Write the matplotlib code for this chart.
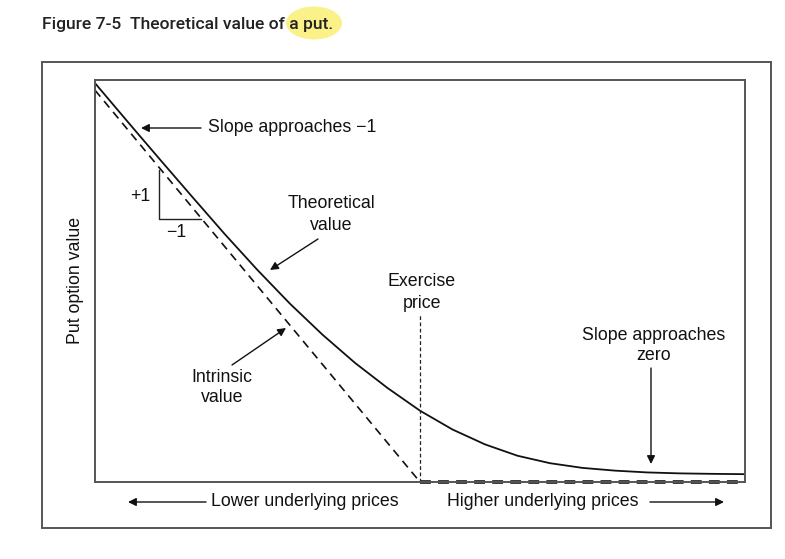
import matplotlib.pyplot as plt
from matplotlib.patches import Rectangle, Ellipse

# underlying price (0..100), exercise price at 50
price = [0, 5, 10, 15, 20, 25, 30, 35, 40, 45, 50, 55, 60, 65, 70, 75, 80, 85, 90, 95, 100]
theoretical = [50.9, 46.0, 41.15, 36.35, 31.6, 27.05, 22.75, 18.8, 15.2, 12.0, 9.1, 6.7, 4.8,
               3.35, 2.4, 1.8, 1.45, 1.22, 1.1, 1.04, 1.0]
strike = 50
intrinsic_x = [0, 50]
intrinsic_y = [50, 0]
flat_x = [50, 100]
flat_y = [0, 0]

W, H = 785, 559
fig = plt.figure(figsize=(W / 100, H / 100), dpi=100)
plt.rcParams['font.family'] = ['Liberation Sans', 'DejaVu Sans']


def fp(x, y):
    # pixel (from top-left) -> figure fraction
    return (x / W, 1 - y / H)


ax = fig.add_axes([95 / W, 1 - 482 / H, 650 / W, 402 / H])
ax.set_xlim(0, 100)
ax.set_ylim(0, 51.3)
ax.set_xticks([])
ax.set_yticks([])
for s in ax.spines.values():
    s.set_color('#555555')
    s.set_linewidth(1.4)

ax.plot(price, theoretical, color='#111111', lw=1.3)
ax.plot(intrinsic_x, intrinsic_y, color='#111111', lw=1.2, ls=(0, (5, 3.5)))
ax.plot(flat_x, flat_y, color='#111111', lw=2.6, ls=(0, (3, 2)), clip_on=False)
ax.plot([strike, strike], [0, 21.4], color='#222222', lw=0.9, ls=(0, (3, 2)))

# slope triangle
ax.plot([9.8, 9.8, 16.3], [39.8, 33.6, 33.6], color='#222222', lw=1.0)

# outer frame
fig.patches.append(Rectangle(fp(42, 528), 729 / W, 466 / H, transform=fig.transFigure,
                             fill=False, edgecolor='#555555', lw=1.4))

# title with highlight
fig.patches.append(Ellipse(fp(314, 23), 56 / W, 33 / H, transform=fig.transFigure,
                           facecolor='#faf07c', edgecolor='none', alpha=0.9, zorder=0))
fig.text(*fp(42, 24), 'Figure 7-5  Theoretical value of a put.', fontsize=12.6,
         family=['Roboto', 'DejaVu Sans'], weight='medium', va='center', ha='left',
         color='#222222')

fs = 12.8
tk = dict(fontsize=fs, color='#111111', ha='center', va='center')
arr = dict(arrowstyle='-|>', color='#111111', lw=1.0, mutation_scale=12, shrinkA=0, shrinkB=0)

fig.text(*fp(208, 128), 'Slope approaches \u22121', fontsize=fs, color='#111111',
         ha='left', va='center')
ax.annotate('', xy=fp(141, 128), xytext=fp(201, 128), xycoords='figure fraction',
            textcoords='figure fraction', arrowprops=arr)

fig.text(*fp(140, 196), '+1', **tk)
fig.text(*fp(176, 232), '\u22121', **tk)

fig.text(*fp(331, 204), 'Theoretical', **tk)
fig.text(*fp(331, 226), 'value', **tk)
ax.annotate('', xy=fp(270, 270), xytext=fp(318, 239), xycoords='figure fraction',
            textcoords='figure fraction', arrowprops=arr)

fig.text(*fp(222, 377), 'Intrinsic', **tk)
fig.text(*fp(222, 398), 'value', **tk)
ax.annotate('', xy=fp(286, 328), xytext=fp(232, 365), xycoords='figure fraction',
            textcoords='figure fraction', arrowprops=arr)

fig.text(*fp(422, 282), 'Exercise', **tk)
fig.text(*fp(422, 303), 'price', **tk)

fig.text(*fp(654, 335), 'Slope approaches', **tk)
fig.text(*fp(654, 356), 'zero', **tk)
ax.annotate('', xy=fp(651, 464), xytext=fp(651, 368), xycoords='figure fraction',
            textcoords='figure fraction', arrowprops=arr)

fig.text(*fp(75, 280), 'Put option value', rotation=90, **tk)

fig.text(*fp(211, 502), 'Lower underlying prices', fontsize=fs, color='#111111',
         ha='left', va='center')
ax.annotate('', xy=fp(128, 502), xytext=fp(206, 502), xycoords='figure fraction',
            textcoords='figure fraction', arrowprops=arr)
fig.text(*fp(447, 502), 'Higher underlying prices', fontsize=fs, color='#111111',
         ha='left', va='center')
ax.annotate('', xy=fp(724, 502), xytext=fp(650, 502), xycoords='figure fraction',
            textcoords='figure fraction', arrowprops=arr)

fig.savefig('out.png', dpi=100)
